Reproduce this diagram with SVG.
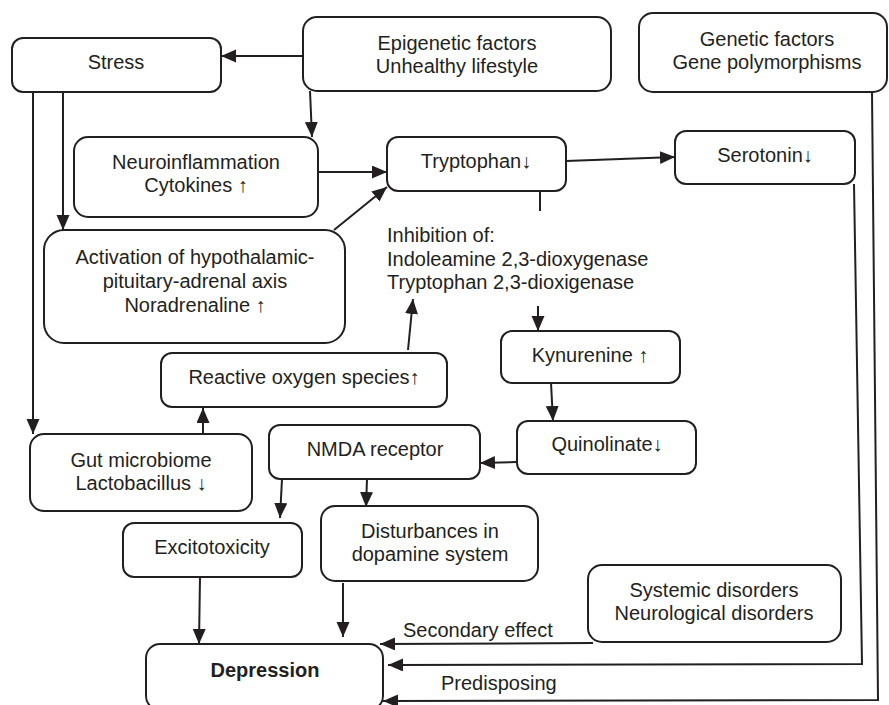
<svg xmlns="http://www.w3.org/2000/svg" width="889" height="705" viewBox="0 0 889 705">
<defs>
<style>
.box{fill:#fff;stroke:#231f20;stroke-width:2}
.t{font-family:"Liberation Sans","DejaVu Sans",Arial,sans-serif;font-size:20px;fill:#231f20;text-anchor:middle}
.l{font-family:"Liberation Sans","DejaVu Sans",Arial,sans-serif;font-size:20px;fill:#231f20}
.b{font-weight:bold}
.c{fill:none;stroke:#231f20;stroke-width:2}
.a{marker-end:url(#ah)}
</style>
<marker id="ah" markerUnits="userSpaceOnUse" markerWidth="16" markerHeight="14" refX="15" refY="6.5" orient="auto" viewBox="0 0 16 14">
<path d="M0,0 L15,6.5 L0,13 z" fill="#231f20"/>
</marker>
</defs>
<rect width="889" height="705" fill="#fff"/>
<g id="connectors">
<line class="c a" x1="303" y1="56" x2="221" y2="56"/>
<line class="c a" x1="310" y1="91" x2="312" y2="137"/>
<line class="c a" x1="33" y1="92" x2="33" y2="434"/>
<line class="c a" x1="63" y1="92" x2="63" y2="230"/>
<line class="c a" x1="318" y1="172" x2="387" y2="172"/>
<line class="c a" x1="334" y1="230" x2="387" y2="187"/>
<line class="c a" x1="566" y1="161" x2="675" y2="157"/>
<line class="c" x1="540" y1="191" x2="540" y2="211"/>
<line class="c a" x1="538" y1="306" x2="538" y2="331"/>
<line class="c a" x1="551" y1="383" x2="553" y2="421"/>
<line class="c a" x1="517" y1="462" x2="480" y2="463"/>
<line class="c a" x1="282" y1="479" x2="280" y2="518"/>
<line class="c a" x1="367" y1="479" x2="366" y2="507"/>
<line class="c a" x1="200" y1="577" x2="199" y2="644"/>
<line class="c a" x1="343" y1="583" x2="343" y2="637"/>
<line class="c a" x1="203" y1="434" x2="203" y2="408"/>
<line class="c a" x1="408" y1="350" x2="413" y2="299"/>
<polyline class="c a" points="593,643 380,644"/>
<polyline class="c a" points="854,184 862,664 388,665"/>
<polyline class="c a" points="872,92 878,700 383,701"/>
<text class="l" x="403" y="637">Secondary effect</text>
<text class="l" x="441" y="690">Predisposing</text>
</g>
<g id="stress">
<rect class="box" x="12" y="38" width="209" height="54" rx="11"/>
<text class="t" x="116" y="69">Stress</text>
</g>
<g id="epigenetic">
<rect class="box" x="303" y="17" width="308" height="74" rx="14"/>
<text class="t" x="457" y="50">Epigenetic factors</text>
<text class="t" x="457" y="73">Unhealthy lifestyle</text>
</g>
<g id="genetic">
<rect class="box" x="639" y="13" width="248" height="79" rx="14"/>
<text class="t" x="767" y="46">Genetic factors</text>
<text class="t" x="767" y="69">Gene polymorphisms</text>
</g>
<g id="neuroinflammation">
<rect class="box" x="74" y="137" width="244" height="80" rx="14"/>
<text class="t" x="196" y="169">Neuroinflammation</text>
<text class="t" x="196" y="192">Cytokines ↑</text>
</g>
<g id="tryptophan">
<rect class="box" x="387" y="137" width="179" height="54" rx="11"/>
<text class="t" x="476" y="168">Tryptophan↓</text>
</g>
<g id="serotonin">
<rect class="box" x="675" y="131" width="180" height="53" rx="11"/>
<text class="t" x="765" y="162">Serotonin↓</text>
</g>
<g id="hpa">
<rect class="box" x="44" y="230" width="301" height="113" rx="20"/>
<text class="t" x="195" y="264">Activation of hypothalamic-</text>
<text class="t" x="195" y="288">pituitary-adrenal axis</text>
<text class="t" x="195" y="312">Noradrenaline ↑</text>
</g>
<g id="inhibition">
<text class="l" x="387" y="242">Inhibition of:</text>
<text class="l" x="387" y="266">Indoleamine 2,3-dioxygenase</text>
<text class="l" x="387" y="289">Tryptophan 2,3-dioxigenase</text>
</g>
<g id="ros">
<rect class="box" x="161" y="353" width="286" height="54" rx="11"/>
<text class="t" x="304" y="384">Reactive oxygen species↑</text>
</g>
<g id="kynurenine">
<rect class="box" x="501" y="331" width="179" height="52" rx="11"/>
<text class="t" x="590" y="362">Kynurenine ↑</text>
</g>
<g id="quinolinate">
<rect class="box" x="517" y="421" width="179" height="53" rx="11"/>
<text class="t" x="607" y="451">Quinolinate↓</text>
</g>
<g id="nmda">
<rect class="box" x="269" y="425" width="211" height="54" rx="11"/>
<text class="t" x="375" y="456">NMDA receptor</text>
</g>
<g id="gut">
<rect class="box" x="30" y="434" width="222" height="77" rx="14"/>
<text class="t" x="141" y="467">Gut microbiome</text>
<text class="t" x="141" y="490">Lactobacillus ↓</text>
</g>
<g id="excitotoxicity">
<rect class="box" x="123" y="523" width="179" height="54" rx="11"/>
<text class="t" x="212" y="554">Excitotoxicity</text>
</g>
<g id="dopamine">
<rect class="box" x="321" y="506" width="217" height="75" rx="14"/>
<text class="t" x="430" y="538">Disturbances in</text>
<text class="t" x="430" y="561">dopamine system</text>
</g>
<g id="systemic">
<rect class="box" x="588" y="565" width="253" height="77" rx="14"/>
<text class="t" x="714" y="597">Systemic disorders</text>
<text class="t" x="714" y="620">Neurological disorders</text>
</g>
<g id="depression">
<rect class="box" x="146" y="644" width="237" height="66" rx="14"/>
<text class="t b" x="265" y="677">Depression</text>
</g>
</svg>
